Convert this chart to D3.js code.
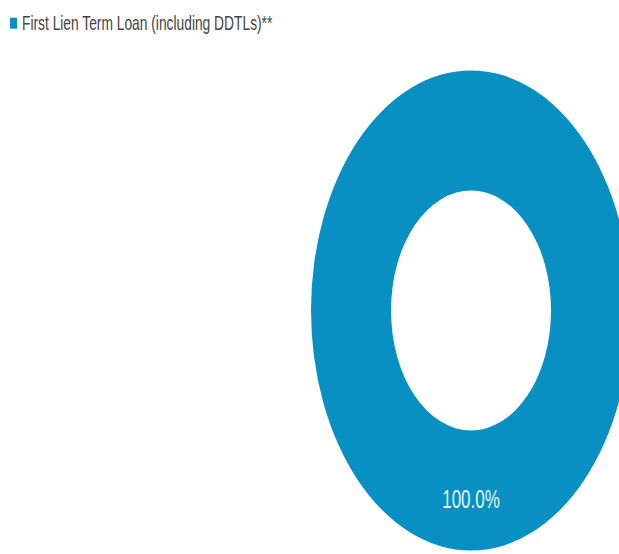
<!DOCTYPE html>
<html>
<head>
<meta charset="utf-8">
<script src="https://cdn.jsdelivr.net/npm/d3@7"></script>
<style>
  body { margin: 0; background: #fff; }
  text { font-family: "Liberation Sans", Arial, sans-serif; }
</style>
</head>
<body>
<div id="chart-area"></div>
<script>
// Chart data
let categories = ["First Lien Term Loan (including DDTLs)**"];
let values = [100.0];
let colors = ["#0790c1"];

let width = 619, height = 554;
// the picture is stretched vertically
let stretchY = 1.5;

let svg = d3.select("#chart-area").append("svg")
    .attr("width", width)
    .attr("height", height);

let root = svg.append("g")
    .attr("transform", "scale(1," + stretchY + ")");

// Legend
let legend = root.selectAll(".legend")
    .data(categories)
    .enter().append("g")
    .attr("class", "legend")
    .attr("transform", (d, i) => "translate(10," + (11.8 + i * 14) + ")");

legend.append("rect")
    .attr("width", 7)
    .attr("height", 7.3)
    .attr("fill", (d, i) => colors[i]);

legend.append("text")
    .attr("x", 12)
    .attr("y", 8.2)
    .attr("fill", "#444")
    .style("font-size", "13.8px")
    .text(d => d);

// Donut
let radius = 160;
let cx = 471, cy = 207;

let pie = d3.pie().sort(null).value(d => d);
let arc = d3.arc().innerRadius(radius * 0.5).outerRadius(radius);

let donut = root.append("g")
    .attr("transform", "translate(" + cx + "," + cy + ")");

let slices = donut.selectAll(".slice")
    .data(pie(values))
    .enter().append("g")
    .attr("class", "slice");

slices.append("path")
    .attr("d", arc)
    .attr("fill", (d, i) => colors[i]);

slices.append("text")
    .attr("transform", d => "translate(" + arc.centroid(d) + ")")
    .attr("text-anchor", "middle")
    .attr("y", 5.5)
    .attr("dy", "0.35em")
    .attr("fill", "#e8f4fa")
    .style("font-size", "17px")
    .text(d => d.data.toFixed(1) + "%");
</script>
</body>
</html>
